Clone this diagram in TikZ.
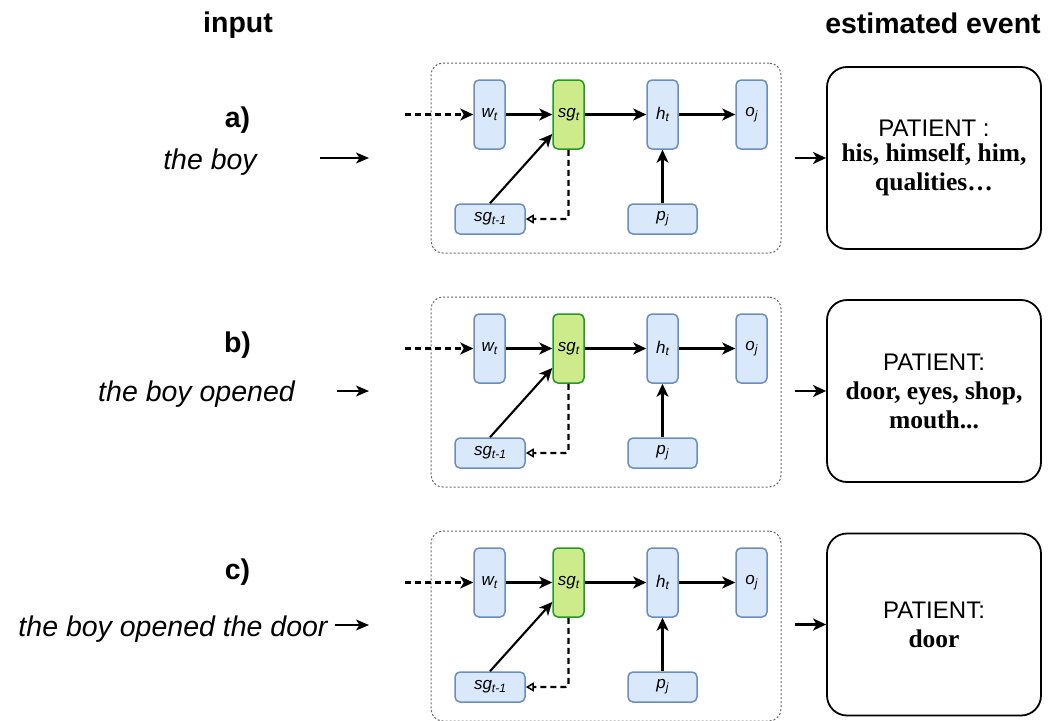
\documentclass[tikz,border=0pt]{standalone}
\usepackage{fontspec}
\setmainfont{Liberation Serif}
\setsansfont{Liberation Sans}
\usetikzlibrary{arrows.meta,calc}

\definecolor{cellfill}{HTML}{DAE8FC}
\definecolor{celldraw}{HTML}{6C8EBF}
\definecolor{gatefill}{HTML}{CDEB8B}
\definecolor{gatedraw}{HTML}{229A22}
\definecolor{framegray}{HTML}{666666}

% lowered italic subscript for the cell labels
\newcommand\sub[1]{\raisebox{-0.3ex}{\fontsize{12}{14}\selectfont\itshape #1}}

\tikzset{
  cell/.style={draw=celldraw, fill=cellfill, line width=1.5pt, rounded corners=5pt,
    minimum width=31pt, minimum height=69pt, inner sep=0pt,
    font=\fontsize{17}{20}\selectfont\sffamily\itshape},
  widecell/.style={cell, minimum width=70pt, minimum height=30pt},
  gate/.style={cell, draw=gatedraw, fill=gatefill},
  frame/.style={draw=framegray, line width=1pt, dash pattern=on 2pt off 2pt,
    rounded corners=12pt, minimum width=350pt, minimum height=190pt, inner sep=0pt},
  flow/.style={line width=2.1pt, -{Stealth[length=13pt,width=12pt,inset=3.5pt]}},
  dflow/.style={flow, dash pattern=on 6pt off 4pt},
  feedback/.style={line width=2.1pt, dash pattern=on 6pt off 4pt, rounded corners=3pt,
    -{Triangle[open,length=8pt,width=9pt,line width=1.5pt]}},
  textarrow/.style={line width=1.4pt, -{Stealth[length=13pt,width=11pt,inset=3.5pt]}},
  title/.style={anchor=base, font=\fontsize{28.5}{34}\selectfont\sffamily\bfseries},
  tag/.style={anchor=base, font=\fontsize{28.5}{34}\selectfont\sffamily\bfseries},
  sentence/.style={anchor=base, font=\fontsize{28.5}{34}\selectfont\sffamily\itshape},
  event/.style={draw, line width=1.8pt, rounded corners=20pt, align=center,
    minimum width=214pt, minimum height=182pt, inner sep=0pt,
    font=\fontsize{25.5}{29}\selectfont},
}

% one recurrent block: #1 = name suffix, #2 = vertical offset
\newcommand\rnnpanel[2]{%
  \begin{scope}[shift={(0,#2)}]
    \node[frame] (box#1) at (606,158) {};
    \node[cell] (w#1) at (489.5,114.5) {w\sub{t}};
    \node[gate] (s#1) at (568.5,114.5) {sg\sub{t}};
    \node[cell] (h#1) at (662.5,114.5) {h\sub{t}};
    \node[cell] (o#1) at (751.5,114.5) {o\sub{j}};
    \node[widecell] (sp#1) at (490,219) {sg\sub{t-1}};
    \node[widecell, minimum width=69pt] (p#1) at (662.5,219) {p\sub{j}};
    \coordinate (in#1) at (405,114.5);
    \draw[dflow] (in#1) -- (w#1);
    \draw[flow] (w#1) -- (s#1);
    \draw[flow] (s#1) -- (h#1);
    \draw[flow] (h#1) -- (o#1);
    \draw[flow] (sp#1.north) -- ([yshift=-19.5pt]s#1.west);
    \draw[flow] (p#1) -- (h#1);
    \draw[feedback] (s#1.south) |- (sp#1.east);
  \end{scope}}

\begin{document}
\begin{tikzpicture}[x=1pt, y=-1pt]
  \useasboundingbox[fill=white] (0,0) rectangle (1051,720);

  % column headings
  \node[title] (hin) at (238,32) {input};
  \node[title] (hout) at (933,33) {estimated event};

  % the three recurrent blocks
  \rnnpanel{a}{0}
  \rnnpanel{b}{234}
  \rnnpanel{c}{468}

  % inputs
  \node[tag] (ta) at (237.5,127) {a)};
  \node[sentence] (xa) at (210,169) {the boy};
  \node[tag] (tb) at (237.5,352) {b)};
  \node[sentence] (xb) at (196.5,401) {the boy opened};
  \node[tag] (tc) at (237.5,579) {c)};
  \node[sentence] (xc) at (173,636) {the boy opened the door};

  \coordinate (qa1) at (320,158);  \coordinate (qa2) at (369,158);
  \coordinate (qb1) at (337,391);  \coordinate (qb2) at (369,391);
  \coordinate (qc1) at (335,625);  \coordinate (qc2) at (369,625);
  \draw[textarrow] (qa1) -- (qa2);
  \draw[textarrow] (qb1) -- (qb2);
  \draw[textarrow] (qc1) -- (qc2);

  % estimated events
  \node[event] (eva) at (934,158)
    {{\sffamily\fontsize{24}{29}\selectfont PATIENT :}\\[-4pt]
     \textbf{his, himself, him,}\\ \textbf{qualities…}};
  \node[event] (evb) at (934,391)
    {{\sffamily\fontsize{24}{29}\selectfont PATIENT:}\\
     \textbf{door, eyes, shop,}\\ \textbf{mouth...}};
  \node[event] (evc) at (934,624.5)
    {{\sffamily\fontsize{24}{29}\selectfont PATIENT:}\\ \textbf{door}};

  \coordinate (ea) at (795,158);
  \coordinate (eb) at (795,391);
  \coordinate (ec) at (795,624.5);
  \draw[flow] (ea) -- (eva.west);
  \draw[flow] (eb) -- (evb.west);
  \draw[flow] (ec) -- (evc.west);
\end{tikzpicture}
\end{document}
